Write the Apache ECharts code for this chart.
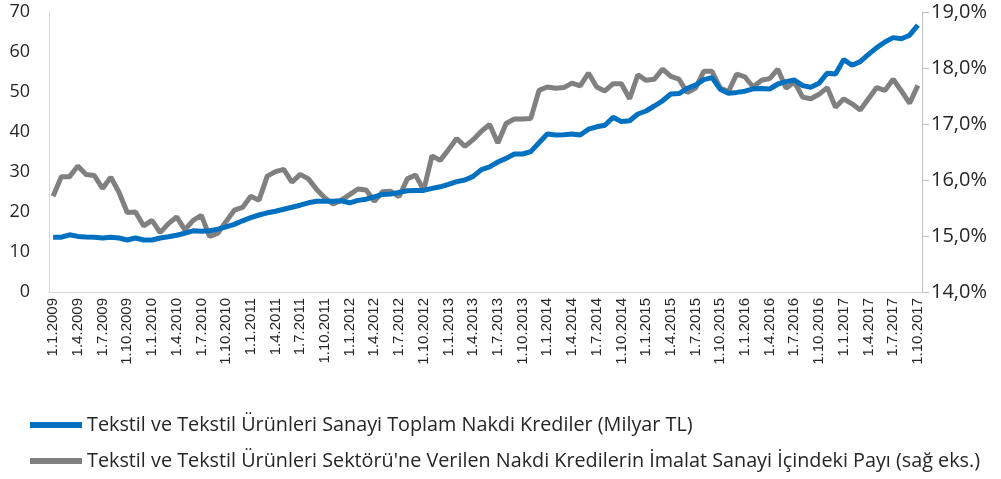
<!DOCTYPE html>
<html>
<head>
<meta charset="utf-8">
<script src="https://cdn.jsdelivr.net/npm/echarts@6/dist/echarts.min.js"></script>
<style>
  html, body { margin: 0; padding: 0; background: #fff; }
  #chart_tekstil { width: 1001px; height: 479px; }
</style>
</head>
<body>
<div id="chart_tekstil"></div>
<script>
// aylar: 1.1.2009 - 1.10.2017
var ilkYil = 2009;
var ayAdedi = 106;
var aylar = [];
for (var i = 0; i < ayAdedi; i++) {
    aylar.push('1.' + (i % 12 + 1) + '.' + (ilkYil + Math.floor(i / 12)));
}

var seriAdlari = [
    'Tekstil ve Tekstil Ürünleri Sanayi Toplam Nakdi Krediler (Milyar TL)',
    "Tekstil ve Tekstil Ürünleri Sektörü'ne Verilen Nakdi Kredilerin İmalat Sanayi İçindeki Payı (sağ eks.)"
];

// toplam nakdi krediler (milyar TL)
var krediler = [
    13.7, 13.7, 14.3, 13.9, 13.75, 13.7, 13.5, 13.7, 13.5, 13.0, 13.5, 13.0,
    13.0, 13.5, 13.8, 14.2, 14.7, 15.3, 15.2, 15.3, 15.7, 16.3, 16.9, 17.8,
    18.6, 19.25, 19.8, 20.2, 20.7, 21.2, 21.7, 22.3, 22.7, 22.7, 22.7, 22.8,
    22.3, 22.9, 23.2, 23.8, 24.4, 24.5, 24.9, 25.3, 25.4, 25.4, 25.9, 26.3,
    26.9, 27.6, 28.0, 28.9, 30.6, 31.3, 32.5, 33.4, 34.5, 34.5, 35.1, 37.3,
    39.5, 39.25, 39.3, 39.5, 39.25, 40.7, 41.3, 41.7, 43.7, 42.6, 42.8, 44.5,
    45.25, 46.5, 47.8, 49.5, 49.6, 50.9, 51.7, 53.1, 53.6, 50.7, 49.7, 49.9,
    50.2, 50.8, 50.9, 50.75, 52.0, 52.6, 53.0, 51.6, 51.2, 52.2, 54.7, 54.5,
    58.1, 56.7, 57.6, 59.4, 61.1, 62.5, 63.6, 63.3, 64.2, 66.7
];

// imalat sanayi icindeki pay (%) - sag eksen
var paylar = [
    15.71, 16.06, 16.06, 16.25, 16.10, 16.08, 15.85, 16.05, 15.78, 15.42, 15.43, 15.18,
    15.28, 15.06, 15.22, 15.34, 15.11, 15.28, 15.37, 14.99, 15.05, 15.26, 15.46, 15.51,
    15.71, 15.64, 16.07, 16.15, 16.19, 15.96, 16.10, 16.02, 15.83, 15.68, 15.57, 15.64,
    15.74, 15.84, 15.82, 15.62, 15.79, 15.80, 15.70, 16.02, 16.09, 15.82, 16.43, 16.35,
    16.54, 16.74, 16.60, 16.72, 16.87, 16.99, 16.66, 17.01, 17.09, 17.09, 17.10, 17.60,
    17.66, 17.64, 17.65, 17.73, 17.68, 17.91, 17.66, 17.59, 17.72, 17.72, 17.45, 17.88,
    17.78, 17.80, 17.98, 17.85, 17.80, 17.56, 17.64, 17.94, 17.94, 17.64, 17.58, 17.89,
    17.84, 17.66, 17.78, 17.81, 17.98, 17.64, 17.75, 17.48, 17.45, 17.53, 17.65, 17.30,
    17.45, 17.36, 17.25, 17.45, 17.65, 17.60, 17.80, 17.59, 17.37, 17.69
];

var yaziTipi = '"Open Sans", Lato, sans-serif';

var Echarts = echarts.init(document.getElementById('chart_tekstil'));
var option = {
    animation: false,
    textStyle: { fontFamily: yaziTipi },
    grid: {
        left: 49,
        right: 79,
        top: 12,
        bottom: 187
    },
    legend: {
        orient: 'vertical',
        left: 30,
        top: 415,
        padding: 0,
        icon: 'rect',
        itemWidth: 52,
        itemHeight: 6,
        itemGap: 16,
        textStyle: { fontFamily: yaziTipi, fontSize: 19.8, color: '#262626' },
        data: seriAdlari
    },
    xAxis: {
        type: 'category',
        data: aylar,
        boundaryGap: true,
        axisLine: { lineStyle: { color: '#d9d9d9', width: 1 } },
        axisTick: { interval: 2, length: 5, lineStyle: { color: '#d9d9d9' } },
        axisLabel: {
            interval: 2,
            rotate: 90,
            margin: 6,
            fontFamily: '"Liberation Sans", Arial, sans-serif',
            fontSize: 15,
            color: '#262626'
        },
        splitLine: { show: false }
    },
    yAxis: [
        {
            type: 'value',
            min: 0,
            max: 70,
            interval: 10,
            axisLine: { show: true, lineStyle: { color: '#d9d9d9' } },
            axisTick: { show: false },
            axisLabel: { margin: 19, fontSize: 18, color: '#262626', fontFamily: yaziTipi },
            splitLine: { show: false }
        },
        {
            type: 'value',
            min: 14,
            max: 19,
            interval: 1,
            position: 'right',
            axisLine: { show: true, lineStyle: { color: '#bfbfbf' } },
            axisTick: { show: true, length: 7, lineStyle: { color: '#bfbfbf' } },
            axisLabel: {
                margin: 9,
                fontSize: 20,
                color: '#262626',
                fontFamily: yaziTipi,
                formatter: function (v) { return v.toFixed(1).replace('.', ',') + '%'; }
            },
            splitLine: { show: false }
        }
    ],
    series: [
        {
            name: seriAdlari[0],
            type: 'line',
            yAxisIndex: 0,
            data: krediler,
            symbol: 'none',
            itemStyle: { color: '#0070c0' },
            lineStyle: { color: '#0070c0', width: 5 },
            z: 3
        },
        {
            name: seriAdlari[1],
            type: 'line',
            yAxisIndex: 1,
            data: paylar,
            symbol: 'none',
            itemStyle: { color: '#808080' },
            lineStyle: { color: '#808080', width: 5 },
            z: 2
        }
    ]
};
Echarts.setOption(option);
</script>
</body>
</html>
